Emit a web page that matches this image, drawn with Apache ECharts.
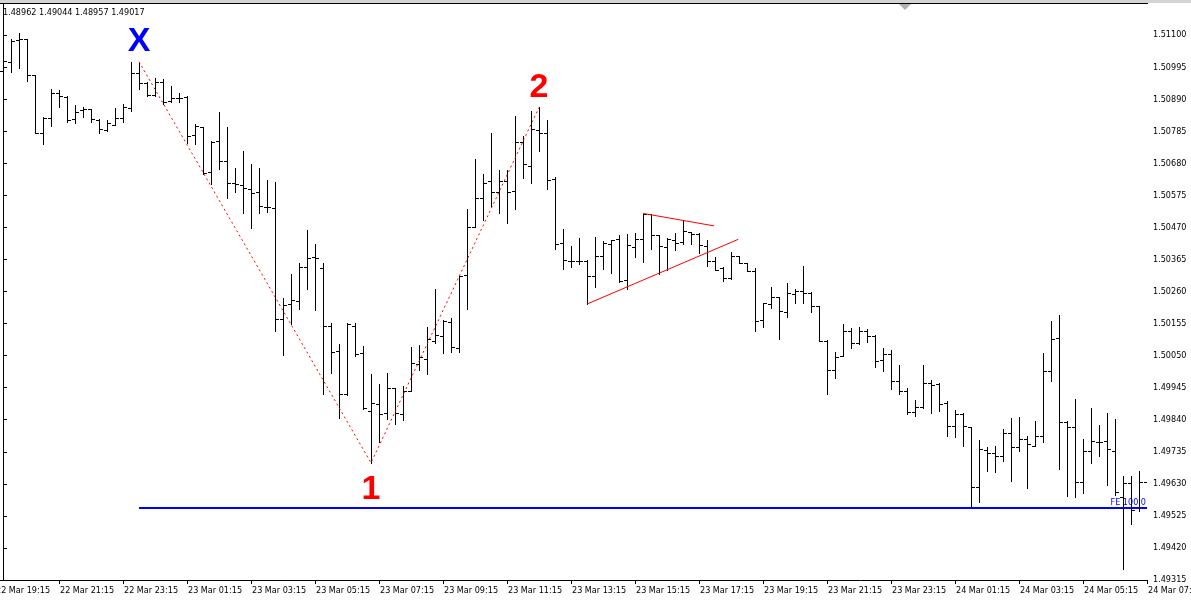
<!DOCTYPE html>
<html>
<head>
<meta charset="utf-8">
<script src="https://cdn.jsdelivr.net/npm/echarts@6/dist/echarts.min.js"></script>
<style>html,body{margin:0;padding:0;background:#fff;}#c{width:1191px;height:603px;}</style>
</head>
<body>
<div id="c"></div>
<script>
// ---- data (EURUSD-like M15 bars) ----
const opens = [1.50982,1.51011,1.51084,1.51086,1.50968,1.50778,1.50830,1.50911,1.50898,1.50824,
1.50854,1.50857,1.50822,1.50789,1.50806,1.50830,1.50860,1.50975,1.50943,1.50904,
1.50945,1.50884,1.50895,1.50898,1.50772,1.50798,1.50650,1.50753,1.50687,1.50614,
1.50609,1.50596,1.50585,1.50538,1.50534,1.50171,1.50218,1.50229,1.50339,1.50372,
1.50336,1.50147,1.50065,1.49924,1.50147,1.50058,1.49869,1.49892,1.49863,1.49943,
1.49860,1.49935,1.50022,1.50040,1.50099,1.50113,1.50159,1.50074,1.50314,1.50472,
1.50568,1.50623,1.50585,1.50622,1.50589,1.50749,1.50671,1.50789,1.50781,1.50628,
1.50418,1.50361,1.50360,1.50361,1.50311,1.50376,1.50415,1.50431,1.50298,1.50407,
1.50431,1.50513,1.50445,1.50407,1.50429,1.50421,1.50454,1.50447,1.50410,1.50360,
1.50336,1.50303,1.50377,1.50353,1.50328,1.50167,1.50219,1.50241,1.50194,1.50251,
1.50262,1.50256,1.50212,1.50099,1.50003,1.50049,1.50131,1.50092,1.50131,1.50114,
1.50036,1.50055,1.49967,1.49934,1.49865,1.49881,1.49961,1.49957,1.49894,1.49820,
1.49860,1.49815,1.49619,1.49741,1.49730,1.49721,1.49796,1.49752,1.49777,1.49755,
1.49787,1.50000,1.50107,1.49834,1.49817,1.49637,1.49739,1.49766,1.49770,1.49738,
1.49588,1.49632,1.49550,1.49637];
const highs = [1.51016,1.51086,1.51106,1.51088,1.50970,1.50832,1.50922,1.50920,1.50900,1.50870,
1.50863,1.50858,1.50824,1.50822,1.50860,1.50876,1.51013,1.51013,1.50945,1.50958,
1.50956,1.50933,1.50912,1.50899,1.50808,1.50799,1.50754,1.50849,1.50800,1.50665,
1.50720,1.50678,1.50665,1.50625,1.50619,1.50240,1.50317,1.50354,1.50461,1.50416,
1.50354,1.50156,1.50088,1.50156,1.50156,1.50081,1.49990,1.49957,1.49992,1.49944,
1.49952,1.50079,1.50085,1.50143,1.50268,1.50167,1.50172,1.50311,1.50532,1.50694,
1.50645,1.50781,1.50658,1.50658,1.50835,1.50769,1.50852,1.50863,1.50822,1.50634,
1.50464,1.50409,1.50434,1.50362,1.50439,1.50425,1.50429,1.50445,1.50447,1.50451,
1.50516,1.50514,1.50446,1.50434,1.50451,1.50494,1.50456,1.50452,1.50429,1.50374,
1.50339,1.50388,1.50378,1.50354,1.50336,1.50223,1.50274,1.50243,1.50289,1.50267,
1.50344,1.50257,1.50213,1.50100,1.50063,1.50154,1.50141,1.50145,1.50137,1.50118,
1.50075,1.50068,1.50019,1.49943,1.49905,1.50019,1.49970,1.49959,1.49902,1.49872,
1.49863,1.49817,1.49774,1.49750,1.49754,1.49810,1.49847,1.49850,1.49787,1.49836,
1.50058,1.50164,1.50183,1.49835,1.49907,1.49776,1.49877,1.49823,1.49863,1.49842,
1.49656,1.49657,1.49672,1.49675];
const lows = [1.50967,1.50978,1.50991,1.50950,1.50779,1.50742,1.50802,1.50865,1.50814,1.50811,
1.50832,1.50815,1.50778,1.50787,1.50804,1.50815,1.50852,1.50925,1.50899,1.50902,
1.50873,1.50881,1.50881,1.50745,1.50743,1.50645,1.50612,1.50663,1.50565,1.50587,
1.50518,1.50469,1.50516,1.50521,1.50132,1.50052,1.50154,1.50203,1.50268,1.50199,
1.49924,1.49994,1.49847,1.49922,1.50049,1.49874,1.49699,1.49768,1.49842,1.49825,
1.49839,1.49934,1.50003,1.49989,1.50092,1.50058,1.50062,1.50063,1.50203,1.50471,
1.50494,1.50540,1.50518,1.50485,1.50531,1.50633,1.50616,1.50721,1.50596,1.50399,
1.50333,1.50341,1.50350,1.50219,1.50274,1.50334,1.50322,1.50290,1.50268,1.50374,
1.50358,1.50398,1.50317,1.50330,1.50396,1.50416,1.50416,1.50387,1.50344,1.50329,
1.50296,1.50302,1.50352,1.50327,1.50132,1.50145,1.50207,1.50103,1.50177,1.50223,
1.50223,1.50194,1.50098,1.49924,1.49978,1.50048,1.50076,1.50088,1.50096,1.50014,
1.50000,1.49940,1.49923,1.49859,1.49853,1.49880,1.49863,1.49869,1.49787,1.49784,
1.49755,1.49552,1.49572,1.49673,1.49670,1.49706,1.49640,1.49739,1.49615,1.49754,
1.49768,1.49968,1.49678,1.49591,1.49586,1.49599,1.49697,1.49722,1.49626,1.49593,
1.49350,1.49499,1.49541,1.49632];
const closes = [1.51014,1.51080,1.51086,1.50968,1.50781,1.50830,1.50911,1.50900,1.50822,1.50849,
1.50859,1.50824,1.50791,1.50811,1.50830,1.50863,1.50975,1.50943,1.50905,1.50945,
1.50882,1.50893,1.50893,1.50769,1.50802,1.50647,1.50751,1.50688,1.50614,1.50611,
1.50600,1.50584,1.50540,1.50537,1.50169,1.50216,1.50232,1.50339,1.50369,1.50371,
1.50147,1.50061,1.49924,1.50154,1.50054,1.49877,1.49894,1.49859,1.49943,1.49863,
1.49934,1.50025,1.50044,1.50103,1.50118,1.50164,1.50077,1.50310,1.50470,1.50565,
1.50616,1.50585,1.50622,1.50585,1.50749,1.50677,1.50791,1.50780,1.50625,1.50415,
1.50363,1.50361,1.50360,1.50311,1.50376,1.50418,1.50428,1.50296,1.50412,1.50431,
1.50515,1.50445,1.50409,1.50433,1.50420,1.50459,1.50450,1.50412,1.50360,1.50331,
1.50303,1.50377,1.50353,1.50328,1.50163,1.50221,1.50241,1.50197,1.50256,1.50262,
1.50256,1.50212,1.50099,1.50003,1.50044,1.50131,1.50090,1.50131,1.50114,1.50032,
1.50055,1.49967,1.49934,1.49864,1.49883,1.49961,1.49953,1.49891,1.49820,1.49858,
1.49820,1.49619,1.49744,1.49730,1.49721,1.49798,1.49752,1.49777,1.49760,1.49787,
1.50000,1.50103,1.49834,1.49817,1.49637,1.49739,1.49770,1.49766,1.49743,1.49604,
1.49632,1.49544,1.49637,1.49647];

const xTickIndex = [-1,7,15,23,31,39,47,55,63,71,79,87,95,103,111,119,127,135,143];
const xTickLabels = ['22 Mar 19:15','22 Mar 21:15','22 Mar 23:15','23 Mar 01:15','23 Mar 03:15',
'23 Mar 05:15','23 Mar 07:15','23 Mar 09:15','23 Mar 11:15','23 Mar 13:15','23 Mar 15:15',
'23 Mar 17:15','23 Mar 19:15','23 Mar 21:15','23 Mar 23:15','24 Mar 01:15','24 Mar 03:15',
'24 Mar 05:15','24 Mar 07:15'];
const yTicks = [1.49315,1.49420,1.49525,1.49630,1.49735,1.49840,1.49945,1.50050,1.50155,
1.50260,1.50365,1.50470,1.50575,1.50680,1.50785,1.50890,1.50995,1.51100];

const waveIdx = [17, 46, 67];
const waveVals = [highs[17], lows[46], highs[67]];
const waveLabels = ['X', '1', '2'];
const triUpper = [[80, 1.50516], [88.9, 1.50475]];
const triLower = [[73, 1.50219], [91.9, 1.50431]];
const feLevel = 1.49552;
const feStartIdx = 17;
const headerText = '1.48962 1.49044 1.48957 1.49017';

// ---- chart ----
const FONT = "'DejaVu Sans Condensed', 'Liberation Sans', sans-serif";
const bars = opens.map((o, i) => [i, o, highs[i], lows[i], closes[i]]);
const labelMap = {};
xTickIndex.forEach((v, k) => { labelMap[v] = xTickLabels[k]; });

function renderOHLC(params, api) {
  const i = api.value(0);
  const pO = api.coord([i, api.value(1)]);
  const pH = api.coord([i, api.value(2)]);
  const pL = api.coord([i, api.value(3)]);
  const pC = api.coord([i, api.value(4)]);
  const xr = Math.round(pO[0]);
  const x = xr + 0.5;
  const yH = Math.round(pH[1]), yL = Math.round(pL[1]);
  const yO = Math.round(pO[1]) + 0.5, yC = Math.round(pC[1]) + 0.5;
  const st = { stroke: '#000', lineWidth: 1 };
  return { type: 'group', children: [
    { type: 'line', shape: { x1: x, y1: yH, x2: x, y2: yL + 1 }, style: st },
    { type: 'line', shape: { x1: xr - 3, y1: yO, x2: xr, y2: yO }, style: st },
    { type: 'line', shape: { x1: xr + 1, y1: yC, x2: xr + 4, y2: yC }, style: st }
  ]};
}

const chart = echarts.init(document.getElementById('c'), null, { renderer: 'canvas' });
const waveColors = ['#0000ff', '#ff0000', '#ff0000'];
const waveOffsets = [[0, -20], [0, 27], [0, -20]];

chart.setOption({
  animation: false,
  backgroundColor: '#ffffff',
  textStyle: { fontFamily: FONT },
  grid: { left: -5, right: 44, top: 4, bottom: 23, containLabel: false, outerBoundsMode: 'none' },
  xAxis: {
    type: 'value', min: -1, max: 143,
    splitLine: { show: false },
    axisLine: { show: true, onZero: false, lineStyle: { color: '#000', width: 1 } },
    axisTick: { show: true, customValues: xTickIndex, length: 4, lineStyle: { color: '#000' } },
    axisLabel: {
      customValues: xTickIndex, align: 'left', margin: 6, padding: [0, 0, 0, 1],
      fontSize: 9, color: '#000', fontFamily: FONT,
      formatter: v => labelMap[Math.round(v)] || ''
    }
  },
  yAxis: {
    type: 'value', position: 'right', min: 1.49315, max: 1.51202, scale: true,
    splitLine: { show: false },
    axisLine: { show: true, lineStyle: { color: '#000', width: 1 } },
    axisTick: { show: true, customValues: yTicks, length: 4, lineStyle: { color: '#000' } },
    axisLabel: { customValues: yTicks, margin: 6, fontSize: 9, color: '#000', fontFamily: FONT,
      formatter: v => v.toFixed(5) }
  },
  series: [
    {
      type: 'custom', name: 'bars', renderItem: renderOHLC, data: bars, clip: true,
      encode: { x: 0, y: [1, 2, 3, 4] },
      markLine: {
        silent: true, symbol: ['none', 'none'], animation: false,
        lineStyle: { color: '#0000ff', width: 2, type: 'solid' },
        label: { show: true, position: 'insideEndTop', formatter: 'FE 100.0', color: '#0000ff',
          fontSize: 9, fontFamily: FONT, distance: [1, 1] },
        data: [[{ coord: [feStartIdx, feLevel] }, { coord: [143, feLevel] }]]
      }
    },
    {
      type: 'line', name: 'wave', data: waveIdx.map((x, k) => [x, waveVals[k]]),
      symbol: 'none', silent: true,
      lineStyle: { color: '#ff0000', width: 1, type: [2, 3] },
      markPoint: {
        symbol: 'circle', symbolSize: 1, silent: true,
        itemStyle: { color: 'rgba(0,0,0,0)' },
        data: waveIdx.map((x, k) => ({
          coord: [x, waveVals[k]], value: waveLabels[k],
          label: { show: true, position: 'inside', formatter: waveLabels[k], offset: waveOffsets[k],
            color: waveColors[k], fontSize: 34, fontWeight: 'bold', fontFamily: "'Liberation Sans', Arial, sans-serif" }
        }))
      }
    },
    { type: 'line', data: triUpper, symbol: 'none', silent: true, lineStyle: { color: '#ff0000', width: 1 } },
    { type: 'line', data: triLower, symbol: 'none', silent: true, lineStyle: { color: '#ff0000', width: 1 } }
  ],
  graphic: [
    { type: 'rect', left: 0, top: 0, shape: { width: 1191, height: 3 }, style: { fill: '#d4d4d4' }, silent: true },
    { type: 'line', shape: { x1: 0, y1: 3.5, x2: 1148, y2: 3.5 }, style: { stroke: '#000', lineWidth: 1 }, silent: true },
    { type: 'polygon', shape: { points: [[899, 4], [911, 4], [905, 10]] }, style: { fill: '#b0b0b0' }, silent: true },
    { type: 'text', left: 3, top: 8, style: { text: headerText, fill: '#000', font: '9px ' + FONT }, silent: true }
  ]
});
</script>
</body>
</html>
